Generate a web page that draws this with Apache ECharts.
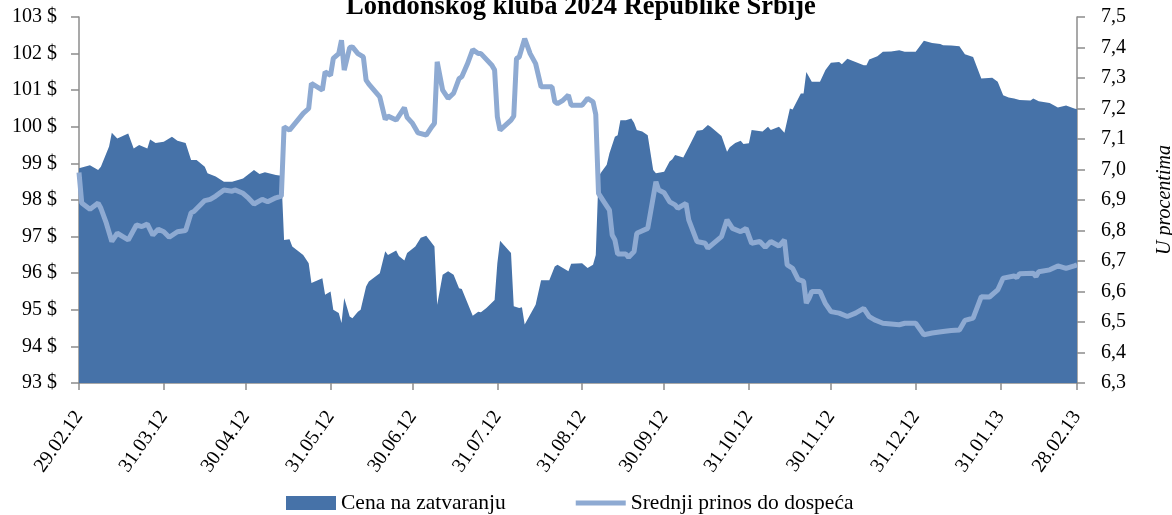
<!DOCTYPE html>
<html>
<head>
<meta charset="utf-8">
<script src="https://cdn.jsdelivr.net/npm/echarts@6/dist/echarts.min.js"></script>
<style>
  html, body { margin: 0; padding: 0; background: #fff; }
  #chart { width: 1172px; height: 515px; }
</style>
</head>
<body>
<div id="chart"></div>
<script>
// days counted from 29.02.12 (day 0) to 28.02.13 (day 365)
const tickLabels = ['29.02.12', '31.03.12', '30.04.12', '31.05.12', '30.06.12', '31.07.12',
  '31.08.12', '30.09.12', '31.10.12', '30.11.12', '31.12.12', '31.01.13', '28.02.13'];

// Cena na zatvaranju (USD)
const priceDays = [0, 4, 7, 8, 11, 12, 14, 18, 20, 22, 25, 26, 28, 31, 34, 36, 39, 41, 43, 46,
  47, 50, 53, 56, 60, 64, 66, 68, 72, 74, 75, 77, 78, 82, 84, 85, 89, 90, 92, 93,
  95, 96, 97, 99, 100, 102, 103, 105, 106, 110, 112, 113, 116, 117, 119, 120, 123, 125, 127, 130,
  131, 133, 135, 137, 139, 140, 144, 146, 147, 149, 152, 153, 154, 158, 159, 161, 162, 163, 167, 169,
  172, 174, 175, 179, 180, 184, 186, 188, 189, 190, 191, 193, 194, 196, 197, 198, 200, 202, 203, 204,
  206, 208, 210, 211, 214, 216, 217, 218, 221, 223, 226, 228, 230, 231, 235, 237, 238, 240, 242, 243,
  245, 246, 248, 250, 252, 253, 256, 258, 260, 261, 264, 265, 266, 268, 271, 273, 275, 278, 279, 281,
  284, 287, 288, 289, 292, 294, 297, 300, 302, 306, 309, 312, 315, 316, 319, 322, 324, 327, 330, 334,
  336, 338, 340, 342, 344, 348, 349, 351, 355, 358, 361, 364, 365];
const priceValues = [98.87, 98.95, 98.82, 98.91, 99.46, 99.84, 99.68, 99.82, 99.41, 99.50, 99.41, 99.65, 99.56, 99.59, 99.73, 99.62, 99.56, 99.09, 99.09, 98.91,
  98.73, 98.64, 98.50, 98.50, 98.59, 98.82, 98.71, 98.76, 98.68, 98.66, 96.91, 96.93, 96.73, 96.50, 96.27, 95.73, 95.86, 95.41, 95.50, 95.00,
  94.91, 94.64, 95.32, 94.82, 94.77, 94.95, 95.00, 95.64, 95.77, 96.00, 96.60, 96.50, 96.62, 96.47, 96.35, 96.55, 96.73, 96.97, 97.02, 96.73,
  95.14, 95.96, 96.05, 95.96, 95.59, 95.57, 94.84, 94.95, 94.93, 95.05, 95.27, 96.27, 96.89, 96.55, 95.10, 95.05, 95.07, 94.60, 95.14, 95.81,
  95.81, 96.18, 96.23, 96.05, 96.26, 96.27, 96.14, 96.23, 96.50, 98.64, 98.76, 98.96, 99.28, 99.73, 99.77, 100.18, 100.18, 100.23, 100.11, 99.91,
  99.87, 99.77, 98.82, 98.73, 98.77, 99.05, 99.11, 99.23, 99.16, 99.45, 99.89, 99.91, 100.05, 100.00, 99.75, 99.32, 99.44, 99.56, 99.62, 99.53,
  99.55, 99.91, 99.89, 99.87, 100.00, 99.91, 100.00, 99.84, 100.50, 100.47, 100.91, 100.91, 101.50, 101.23, 101.23, 101.55, 101.75, 101.77, 101.71, 101.86,
  101.77, 101.68, 101.68, 101.84, 101.93, 102.05, 102.06, 102.09, 102.05, 102.05, 102.35, 102.29, 102.26, 102.23, 102.22, 102.20, 101.98, 101.91, 101.32, 101.34,
  101.23, 100.86, 100.80, 100.77, 100.73, 100.72, 100.77, 100.70, 100.65, 100.53, 100.58, 100.50, 100.48];

// Srednji prinos do dospeca (%)
const yieldDays = [0, 1, 4, 7, 8, 10, 12, 14, 18, 21, 23, 25, 27, 29, 31, 33, 36, 39, 41, 42,
  46, 48, 50, 53, 56, 57, 60, 62, 64, 67, 69, 72, 74, 75, 77, 80, 82, 84, 85, 89,
  90, 92, 93, 95, 96, 97, 99, 100, 102, 104, 105, 106, 110, 112, 113, 116, 119, 120, 122, 124,
  127, 129, 130, 131, 133, 135, 137, 139, 140, 142, 144, 146, 147, 151, 152, 153, 154, 158, 159, 160,
  161, 163, 165, 167, 169, 173, 174, 175, 177, 179, 180, 184, 185, 186, 188, 189, 190, 192, 194, 195,
  196, 197, 200, 201, 203, 204, 208, 211, 212, 214, 216, 218, 219, 222, 223, 226, 229, 230, 235, 237,
  239, 242, 244, 246, 249, 251, 253, 256, 258, 259, 261, 263, 265, 266, 267, 268, 271, 273, 275, 278,
  281, 284, 287, 289, 291, 294, 300, 302, 306, 309, 312, 316, 319, 322, 324, 327, 330, 333, 336, 338,
  342, 343, 344, 349, 350, 351, 355, 358, 361, 364, 365];
const yieldValues = [6.99, 6.89, 6.87, 6.89, 6.873, 6.824, 6.764, 6.791, 6.769, 6.818, 6.813, 6.821, 6.785, 6.804, 6.796, 6.778, 6.796, 6.80, 6.858, 6.862,
  6.898, 6.902, 6.913, 6.933, 6.929, 6.933, 6.922, 6.906, 6.887, 6.902, 6.894, 6.907, 6.913, 7.14, 7.129, 7.162, 7.184, 7.20, 7.282, 7.26,
  7.32, 7.309, 7.364, 7.38, 7.424, 7.326, 7.40, 7.402, 7.38, 7.369, 7.293, 7.28, 7.238, 7.164, 7.175, 7.162, 7.203, 7.171, 7.151, 7.12,
  7.113, 7.14, 7.151, 7.353, 7.26, 7.233, 7.25, 7.298, 7.304, 7.345, 7.393, 7.38, 7.38, 7.342, 7.326, 7.173, 7.129, 7.162, 7.175, 7.364,
  7.369, 7.429, 7.38, 7.347, 7.271, 7.271, 7.222, 7.216, 7.227, 7.244, 7.211, 7.211, 7.222, 7.233, 7.222, 7.18, 6.922, 6.894, 6.867, 6.785,
  6.769, 6.723, 6.723, 6.712, 6.731, 6.791, 6.807, 6.96, 6.933, 6.924, 6.894, 6.884, 6.873, 6.889, 6.835, 6.764, 6.758, 6.742, 6.78, 6.835,
  6.807, 6.796, 6.807, 6.758, 6.764, 6.745, 6.764, 6.749, 6.769, 6.687, 6.676, 6.64, 6.633, 6.562, 6.578, 6.60, 6.60, 6.56, 6.534, 6.529,
  6.518, 6.529, 6.545, 6.518, 6.507, 6.496, 6.491, 6.496, 6.496, 6.458, 6.464, 6.469, 6.472, 6.474, 6.505, 6.513, 6.583, 6.582, 6.605, 6.644,
  6.651, 6.646, 6.658, 6.66, 6.649, 6.665, 6.671, 6.684, 6.676, 6.684, 6.687];

// one category per calendar day
let days = [];
let d = new Date(2012, 1, 29);
for (let i = 0; i <= 365; i++) {
  let dd = String(d.getDate()).padStart(2, '0');
  let mm = String(d.getMonth() + 1).padStart(2, '0');
  let yy = String(d.getFullYear()).slice(2);
  days.push(dd + '.' + mm + '.' + yy);
  d.setDate(d.getDate() + 1);
}

const showTick = (i, v) => tickLabels.indexOf(v) >= 0;
const font = 'Liberation Serif';
const axisGray = '#8c8c8c';
const areaBlue = '#4672a8';
const lineBlue = '#8eaad2';

let option = {
  animation: false,
  title: {
    text: 'Londonskog kluba 2024 Republike Srbije',
    left: 341,
    top: -11,
    textStyle: { fontFamily: font, fontWeight: 'bold', fontSize: 26.5, color: '#000' }
  },
  grid: { left: 79, right: 95, top: 17, bottom: 132, outerBoundsMode: 'none' },
  legend: {
    left: 281,
    top: 487,
    itemGap: 70,
    itemWidth: 50,
    itemHeight: 14,
    textStyle: { fontFamily: font, fontSize: 21.5, color: '#000' },
    data: [
      { name: 'Cena na zatvaranju', icon: 'rect' },
      // thin bar inside a 50x14 box
      { name: 'Srednji prinos do dospeća', icon: 'path://M0,0L0.01,0M0,4.5L50,4.5L50,9.5L0,9.5ZM50,14L50.01,14' }
    ]
  },
  xAxis: {
    type: 'category',
    data: days,
    boundaryGap: false,
    axisLine: { lineStyle: { color: axisGray, width: 1.5 } },
    axisTick: { interval: showTick, length: 7, lineStyle: { color: axisGray, width: 1.5 } },
    axisLabel: { interval: showTick, rotate: 55, margin: 30, fontFamily: font, fontSize: 20, color: '#000' },
    splitLine: { show: false }
  },
  yAxis: [
    {
      type: 'value',
      min: 93,
      max: 103,
      interval: 1,
      axisLine: { show: true, lineStyle: { color: axisGray, width: 1.5 } },
      axisTick: { show: true, length: 8, lineStyle: { color: axisGray, width: 1.5 } },
      axisLabel: { margin: 22, fontFamily: font, fontSize: 20, color: '#000', formatter: v => v + ' $' },
      splitLine: { show: false }
    },
    {
      type: 'value',
      min: 6.3,
      max: 7.5,
      interval: 0.1,
      name: 'U procentima',
      nameLocation: 'middle',
      nameGap: 78,
      nameRotate: 90,
      nameTextStyle: { fontFamily: font, fontSize: 20, fontStyle: 'italic', color: '#000' },
      axisLine: { show: true, lineStyle: { color: axisGray, width: 1.5 } },
      axisTick: { show: true, length: 8, lineStyle: { color: axisGray, width: 1.5 } },
      axisLabel: { margin: 24, fontFamily: font, fontSize: 20, color: '#000', formatter: v => v.toFixed(1).replace('.', ',') },
      splitLine: { show: false }
    }
  ],
  series: [
    {
      name: 'Cena na zatvaranju',
      type: 'line',
      yAxisIndex: 0,
      symbol: 'none',
      color: areaBlue,
      lineStyle: { width: 0 },
      areaStyle: { color: areaBlue, opacity: 1, origin: 'start' },
      data: priceDays.map((x, i) => [x, priceValues[i]])
    },
    {
      name: 'Srednji prinos do dospeća',
      type: 'line',
      yAxisIndex: 1,
      symbol: 'none',
      color: lineBlue,
      lineStyle: { width: 5, color: lineBlue },
      data: yieldDays.map((x, i) => [x, yieldValues[i]])
    }
  ]
};

let chart = echarts.init(document.getElementById('chart'));
chart.setOption(option);
</script>
</body>
</html>
